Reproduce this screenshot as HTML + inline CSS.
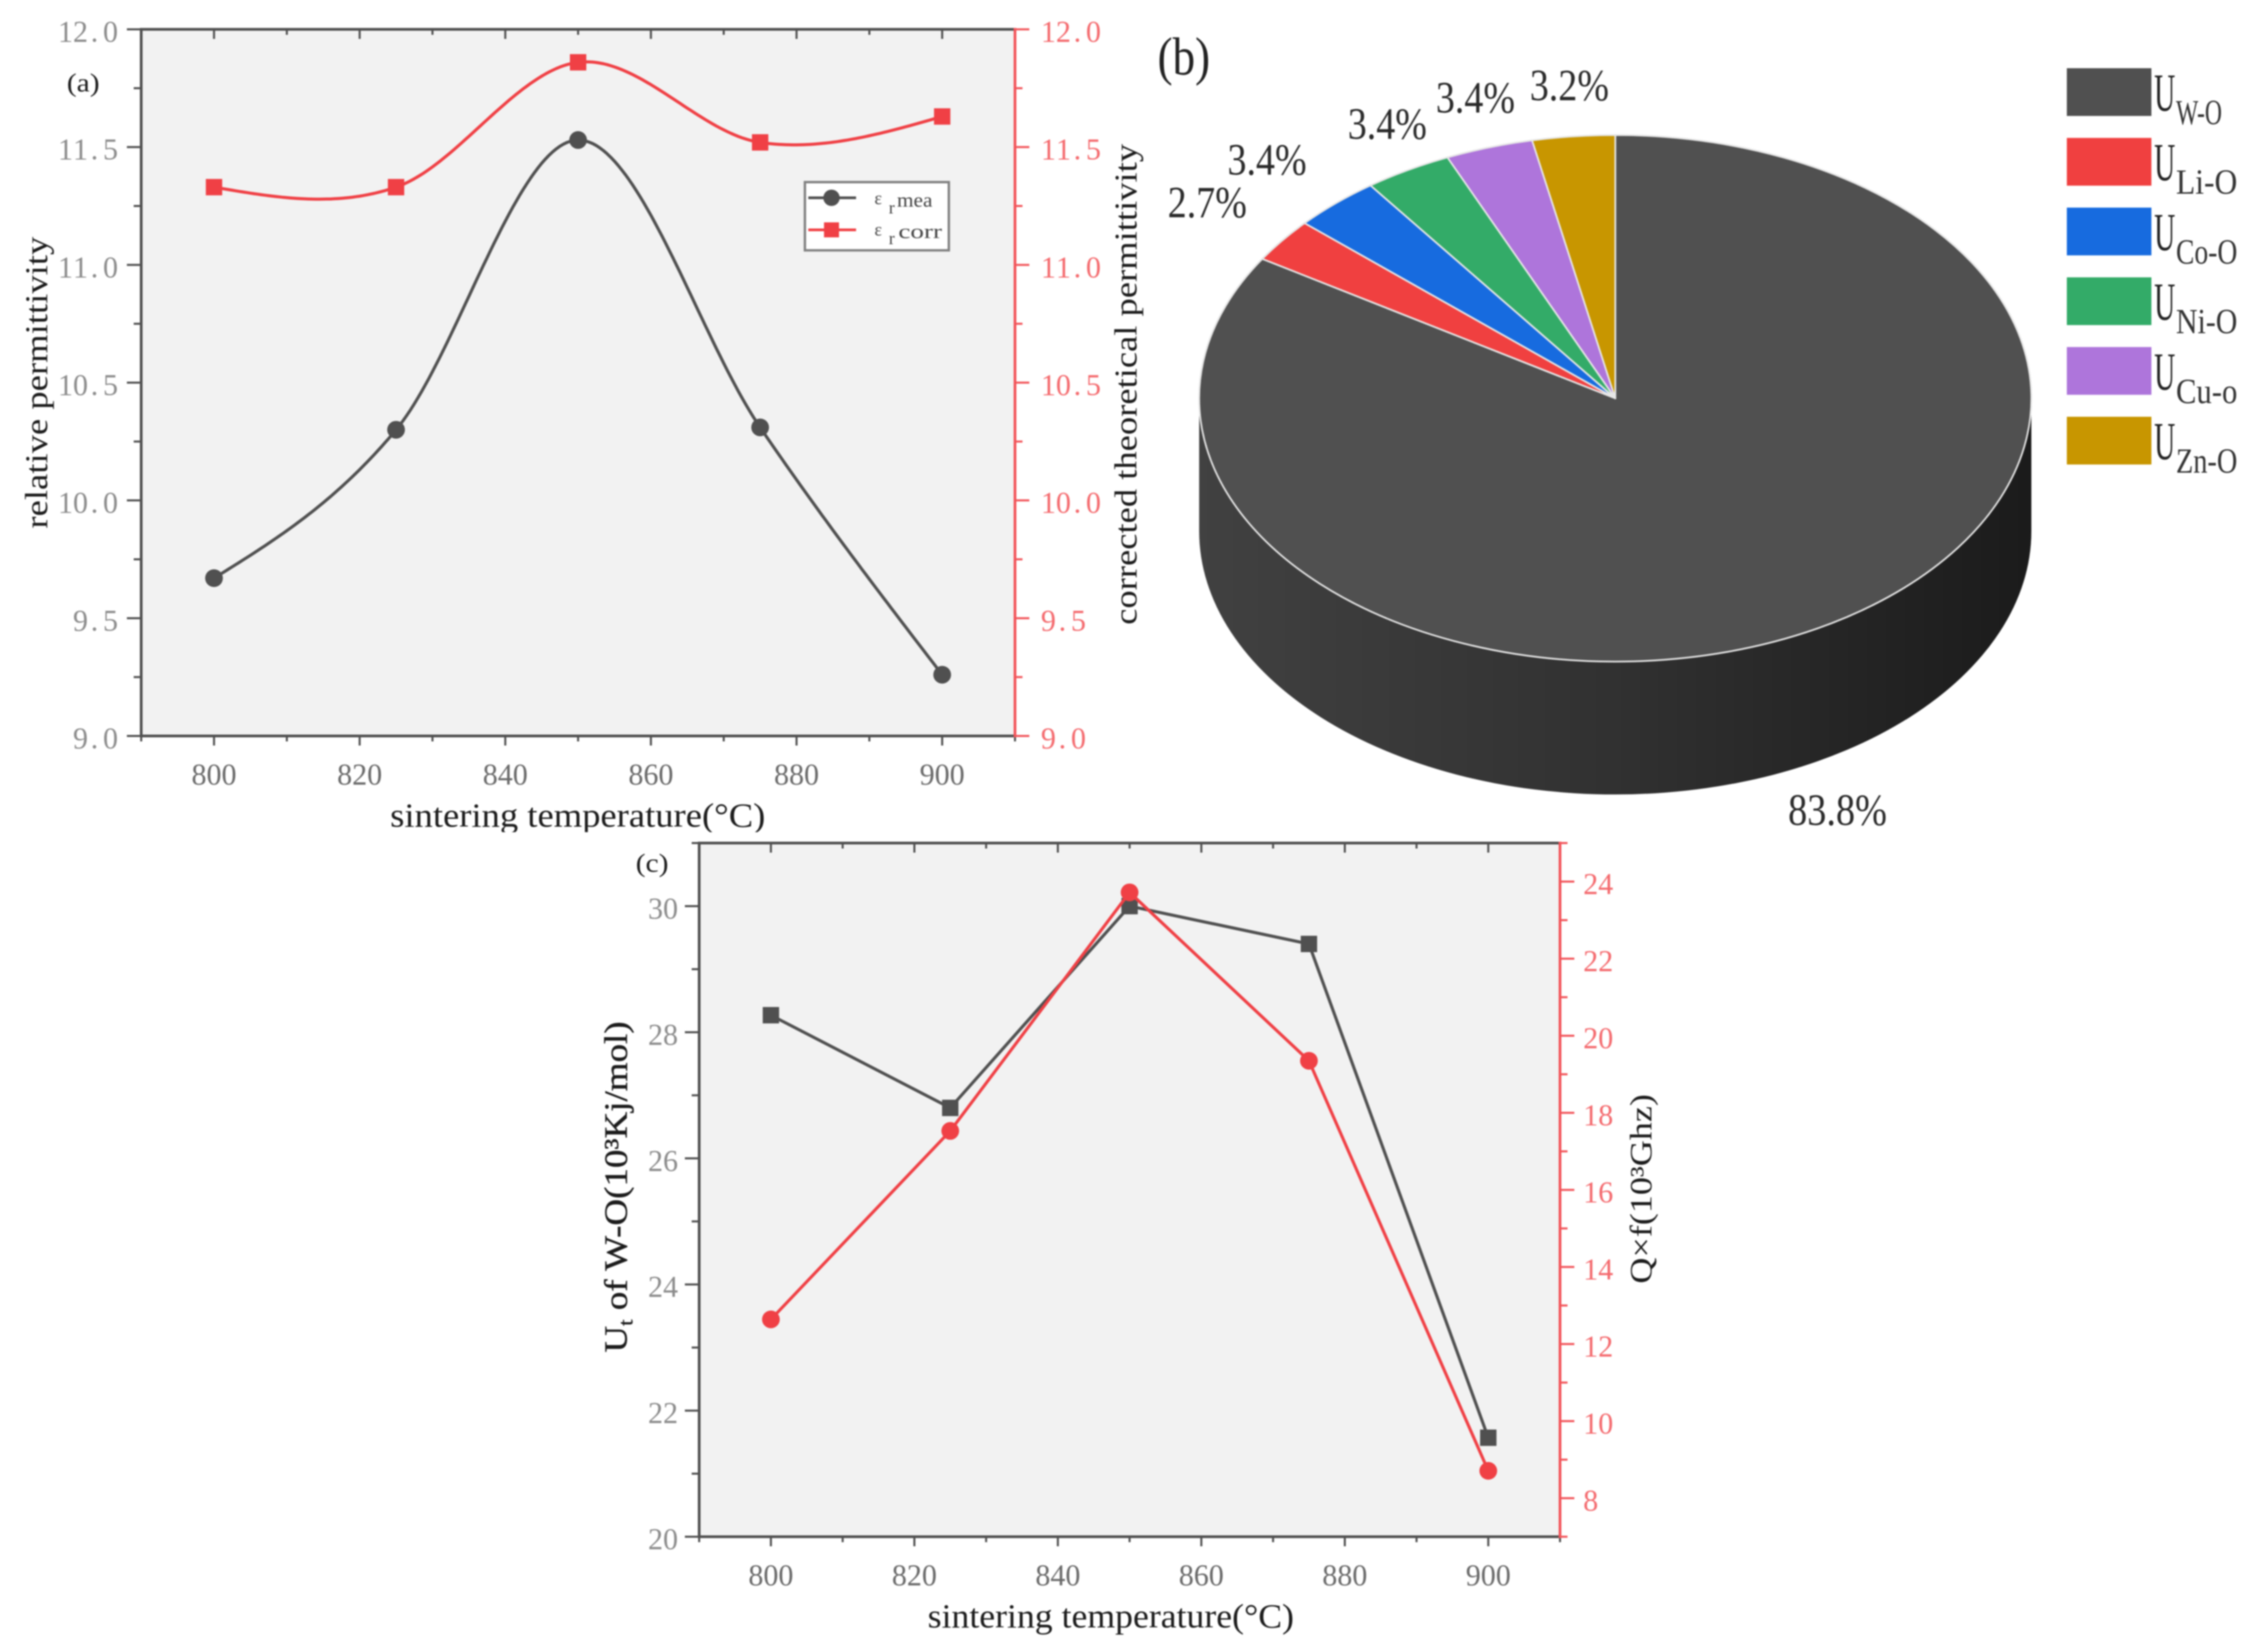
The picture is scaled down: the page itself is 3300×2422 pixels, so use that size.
<!DOCTYPE html>
<html lang="en">
<head>
<meta charset="utf-8">
<title>Permittivity, bond energy and Q×f charts</title>
<style>
html,body{margin:0;padding:0;background:#fff;}
body{width:3300px;height:2422px;overflow:hidden;}
svg{display:block;filter:blur(1.1px);font-family:"Liberation Serif","Noto Serif CJK SC",serif;}
</style>
</head>
<body>
<svg id="chart" xmlns="http://www.w3.org/2000/svg" width="3300" height="2422" viewBox="0 0 3300 2422">
  <defs>
    <linearGradient id="pie-side-gradient" x1="0" x2="1" y1="0" y2="0">
      <stop offset="0" stop-color="#414141"/>
      <stop offset="0.5" stop-color="#313131"/>
      <stop offset="1" stop-color="#1b1b1b"/>
    </linearGradient>
    <clipPath id="a-xlabel-clip"><rect x="0" y="1150" width="1700" height="70"/></clipPath>
  </defs>
  <rect width="3300" height="2422" fill="#fff"/>
  <g id="panel-a"></g>
  <g id="panel-b"></g>
  <g id="panel-c"></g>

  <g fill="#1c1c1c">
    <text x="98" y="134" font-size="38" textLength="48" lengthAdjust="spacingAndGlyphs">(a)</text>
    <text x="572" y="1212" font-size="50" textLength="550" lengthAdjust="spacingAndGlyphs" clip-path="url(#a-xlabel-clip)">sintering temperature(°C)</text>
    <text transform="translate(69,775) rotate(-90)" font-size="47" textLength="428" lengthAdjust="spacingAndGlyphs">relative permittivity</text>
    <text transform="translate(1666,916) rotate(-90)" font-size="47" textLength="705" lengthAdjust="spacingAndGlyphs">corrected theoretical permittivity</text>
  </g>
  <g id="a-legend">
    <rect x="1180" y="267" width="211" height="100" fill="#fff" stroke="#808080" stroke-width="3.5"/>
    <line x1="1185" x2="1255" y1="290" y2="290" stroke="#505050" stroke-width="4"/>
    <circle cx="1219" cy="290" r="12" fill="#505050"/>
    <line x1="1185" x2="1255" y1="337" y2="337" stroke="#f04045" stroke-width="4"/>
    <rect x="1208" y="326" width="22" height="22" fill="#f04045"/>
    <g font-size="30" fill="#444">
      <text x="1282" y="299" font-size="26">ε</text>
      <text x="1303" y="313" font-size="26">r</text>
      <text x="1315" y="303" textLength="52" lengthAdjust="spacingAndGlyphs">mea</text>
      <text x="1282" y="345" font-size="26">ε</text>
      <text x="1303" y="358" font-size="26">r</text>
      <text x="1317" y="349" textLength="64" lengthAdjust="spacingAndGlyphs">corr</text>
    </g>
  </g>

  <text x="1697" y="109" font-size="78" fill="#222" textLength="77" lengthAdjust="spacingAndGlyphs">(b)</text>

  <g fill="#1c1c1c">
    <text x="932" y="1278" font-size="38" textLength="48" lengthAdjust="spacingAndGlyphs">(c)</text>
    <text x="1360" y="2386" font-size="50" textLength="537" lengthAdjust="spacingAndGlyphs">sintering temperature(°C)</text>
    <text transform="translate(919,1983) rotate(-90) scale(1.13,1)" font-size="48" stroke="#1c1c1c" stroke-width="0.5">U<tspan font-size="30" dy="8">t</tspan><tspan dy="-8"> of W-O(10³Kj/mol)</tspan></text>
    <text transform="translate(2421,1882) rotate(-90)" font-size="46" textLength="278" lengthAdjust="spacingAndGlyphs">Q×f(10³Ghz)</text>
  </g>
</svg>
<script>
// ---------- chart data ----------
const temperatureCategories = [800, 825, 850, 875, 900];
const measuredPermittivity = [9.67, 10.30, 11.53, 10.31, 9.26];
const correctedPermittivity = [11.33, 11.33, 11.86, 11.52, 11.63];
const bondEnergy = [28.27, 26.80, 30.00, 29.40, 21.57];
const qualityFactor = [12.64, 17.53, 23.72, 19.35, 8.71];
const xTickLabels = ['800', '820', '840', '860', '880', '900'];
const permittivityTickLabels = ['9.0', '9.5', '10.0', '10.5', '11.0', '11.5', '12.0'];
const bondEnergyTickLabels = ['20', '22', '24', '26', '28', '30'];
const qualityTickLabels = ['8', '10', '12', '14', '16', '18', '20', '22', '24'];
const sliceNames = ['W-O', 'Li-O', 'Co-O', 'Ni-O', 'Cu-o', 'Zn-O'];
const sliceValues = [83.8, 2.7, 3.4, 3.4, 3.4, 3.2];

// ---------- styling and layout (not data) ----------
const sliceColors = ['#505050', '#f04040', '#176bdf', '#33ab68', '#ae75db', '#c89600'];
const pieLabelNudges = [[30, 266], [-110, -56], [-101, -64], [-30, -68], [-20, -73], [-6, -75]];
const DARK = '#505050', RED = '#f04045', SVGNS = 'http://www.w3.org/2000/svg';

function make(tag, attrs, parent) {
  const node = document.createElementNS(SVGNS, tag);
  for (const key in attrs) node.setAttribute(key, attrs[key]);
  parent.appendChild(node);
  return node;
}
function linearScale(d0, d1, r0, r1) {
  return v => r0 + (v - d0) * (r1 - r0) / (d1 - d0);
}
// Hermite curve with central-difference tangents, which keeps the curve close to the data points.
function hermiteCurve(xs, ys) {
  const n = xs.length, m = [];
  for (let i = 1; i < n - 1; i++) m[i] = (ys[i + 1] - ys[i - 1]) / (xs[i + 1] - xs[i - 1]);
  m[0] = 1.5 * (ys[1] - ys[0]) / (xs[1] - xs[0]) - 0.5 * m[1];
  m[n - 1] = 1.5 * (ys[n - 1] - ys[n - 2]) / (xs[n - 1] - xs[n - 2]) - 0.5 * m[n - 2];
  return x => {
    let i = 0;
    while (i < n - 2 && x > xs[i + 1]) i++;
    const h = xs[i + 1] - xs[i], t = (x - xs[i]) / h, t2 = t * t, t3 = t2 * t;
    return (2 * t3 - 3 * t2 + 1) * ys[i] + (t3 - 2 * t2 + t) * h * m[i] + (-2 * t3 + 3 * t2) * ys[i + 1] + (t3 - t2) * h * m[i + 1];
  };
}
function cellText(str, startX, baseline, cell, fill, parent) {
  const xs = [];
  for (let i = 0; i < str.length; i++) xs.push(str[i] === '.' ? startX + i * cell + 4 : startX + i * cell);
  const node = make('text', { x: xs.join(' '), y: baseline, 'font-size': 44, fill: fill }, parent);
  node.textContent = str;
  return node;
}
function drawFrame(prefix, parent, box, x, xMin, xMax) {
  const bg = make('rect', { x: box.l, y: box.t, width: box.r - box.l, height: box.b - box.t, fill: '#f2f2f2' }, parent);
  
  
  for (let v = xMin; v <= xMax; v += 10) {
    const major = xTickLabels.includes(String(v));
    const bottomTick = make('line', { x1: x(v), x2: x(v), y1: box.b, y2: box.b + (major ? 14 : 8), stroke: DARK, 'stroke-width': 3 }, parent);
    
    
    const topTick = make('line', { x1: x(v), x2: x(v), y1: box.t, y2: box.t + (major ? 14 : 8), stroke: DARK, 'stroke-width': 3 }, parent);
    
    
    if (major) {
      const label = cellText(String(v), x(v) - 33, box.b + 71, 22, '#6a6a6a', parent);
      
      
    }
  }
  const topAxis = make('line', { x1: box.l, x2: box.r, y1: box.t, y2: box.t, stroke: DARK, 'stroke-width': 4 }, parent);
  
  
  const bottomAxis = make('line', { x1: box.l - 2, x2: box.r + 2, y1: box.b, y2: box.b, stroke: DARK, 'stroke-width': 4 }, parent);
  
  
}
function drawYAxis(prefix, parent, box, side, y, dMin, dMax, step, labels, labelX, color, textColor) {
  const ax = side === 'left' ? box.l : box.r, dir = side === 'left' ? -1 : 1;
  const axis = make('line', { x1: ax, x2: ax, y1: box.t - 2, y2: box.b + 2, stroke: color, 'stroke-width': 4 }, parent);
  
  
  const count = Math.round((dMax - dMin) / step);
  for (let k = 0; k <= count; k++) {
    const v = dMin + k * step;
    const label = labels.find(t => Math.abs(parseFloat(t) - v) < 1e-6);
    const tick = make('line', { x1: ax, x2: ax + dir * (label ? 21 : 11), y1: y(v), y2: y(v), stroke: color, 'stroke-width': 3 }, parent);
    
    
    if (label) {
      const startX = side === 'left' ? labelX - label.length * 22 : labelX;
      const text = cellText(label, startX, y(v) + 18, 22, textColor, parent);
      
      
    }
  }
}
function drawSeries(prefix, name, parent, x, y, values, color, smooth, marker) {
  let d = '';
  if (smooth) {
    const f = hermiteCurve(temperatureCategories, values);
    const first = temperatureCategories[0], last = temperatureCategories[temperatureCategories.length - 1];
    for (let t = first; t <= last; t += 0.5) d += (d ? 'L' : 'M') + x(t).toFixed(1) + ' ' + y(f(t)).toFixed(1);
  } else {
    values.forEach((v, i) => { d += (i ? 'L' : 'M') + x(temperatureCategories[i]) + ' ' + y(v); });
  }
  const line = make('path', { d: d, fill: 'none', stroke: color, 'stroke-width': 4.5, 'stroke-linejoin': 'round' }, parent);
  
  
  values.forEach((v, i) => {
    const cx = x(temperatureCategories[i]), cy = y(v);
    const dot = marker === 'circle'
      ? make('circle', { cx: cx, cy: cy, r: 13, fill: color }, parent)
      : make('rect', { x: cx - 12, y: cy - 12, width: 24, height: 24, fill: color }, parent);
    
    
  });
}

// ---------- panel (a) ----------
(function () {
  const parent = document.getElementById('panel-a');
  const box = { l: 207, r: 1488, t: 43, b: 1079 };
  const x = linearScale(790, 910, box.l, box.r);
  const y = linearScale(9, 12, box.b, box.t);
  drawFrame('a', parent, box, x, 790, 910);
  drawYAxis('a', parent, box, 'left', y, 9, 12, 0.25, permittivityTickLabels, 173, DARK, '#8c8c8c');
  drawYAxis('a', parent, box, 'right', y, 9, 12, 0.25, permittivityTickLabels, 1526, '#f2555a', '#f46a6e');
  drawSeries('a', 'measured', parent, x, y, measuredPermittivity, DARK, true, 'circle');
  drawSeries('a', 'corrected', parent, x, y, correctedPermittivity, RED, true, 'square');
})();

// ---------- panel (c) ----------
(function () {
  const parent = document.getElementById('panel-c');
  const box = { l: 1025, r: 2287, t: 1236, b: 2253 };
  const x = linearScale(790, 910, box.l, box.r);
  const yLeft = linearScale(20, 31, box.b, box.t);
  const yRight = linearScale(7, 25, box.b, box.t);
  drawFrame('c', parent, box, x, 790, 910);
  drawYAxis('c', parent, box, 'left', yLeft, 20, 31, 1, bondEnergyTickLabels, 994, DARK, '#8c8c8c');
  drawYAxis('c', parent, box, 'right', yRight, 7, 25, 1, qualityTickLabels, 2321, '#f2555a', '#f46a6e');
  drawSeries('c', 'bond-energy', parent, x, yLeft, bondEnergy, DARK, false, 'square');
  drawSeries('c', 'quality-factor', parent, x, yRight, qualityFactor, RED, false, 'circle');
})();

// ---------- panel (b) ----------
(function () {
  const parent = document.getElementById('panel-b');
  const cx = 2368, cy = 584, rx = 610, ry = 386, depth = 195;
  const total = sliceValues.reduce((s, v) => s + v, 0);
  const angle = share => share / total * Math.PI * 2;
  const pt = t => [cx + rx * Math.sin(t), cy - ry * Math.cos(t)];

  const side = make('path', {
    d: 'M' + (cx - rx) + ' ' + cy + 'V' + (cy + depth) + 'A' + rx + ' ' + ry + ' 0 0 0 ' + (cx + rx) + ' ' + (cy + depth) + 'V' + cy + 'Z',
    fill: 'url(#pie-side-gradient)'
  }, parent);
  
  

  let running = 0;
  sliceValues.forEach((value, i) => {
    const t0 = angle(running), t1 = angle(running + value), mid = (t0 + t1) / 2;
    const p0 = pt(t0), p1 = pt(t1), pm = pt(mid);
    running += value;
    const large = t1 - t0 > Math.PI ? 1 : 0;
    const slice = make('path', {
      d: 'M' + cx + ' ' + cy + 'L' + p0[0] + ' ' + p0[1] + 'A' + rx + ' ' + ry + ' 0 ' + large + ' 1 ' + p1[0] + ' ' + p1[1] + 'Z',
      fill: sliceColors[i], stroke: '#e6e6e6', 'stroke-width': 2.5, 'stroke-linejoin': 'round'
    }, parent);
    
    

    const labelText = value.toFixed(1) + '%';
    const label = make('text', {
      x: pm[0] + pieLabelNudges[i][0], y: pm[1] + pieLabelNudges[i][1] + 22,
      'text-anchor': 'middle', 'font-size': 66, fill: '#2a2a2a',
      textLength: labelText.length * 29, lengthAdjust: 'spacingAndGlyphs'
    }, parent);
    label.textContent = labelText;
    
    

    const top = 100 + i * 102.2;
    const swatch = make('rect', { x: 3030, y: top, width: 124, height: 70, fill: sliceColors[i] }, parent);
    
    
    const letter = make('text', { x: 3158, y: top + 62, 'font-size': 78, fill: '#222', textLength: 31, lengthAdjust: 'spacingAndGlyphs' }, parent);
    letter.textContent = 'U';
    
    
    const sub = make('text', { x: 3190, y: top + 82, 'font-size': 52, fill: '#333', textLength: sliceNames[i].length * 22.5, lengthAdjust: 'spacingAndGlyphs' }, parent);
    sub.textContent = sliceNames[i];
    
    
  });
})();
</script>
</body>
</html>
